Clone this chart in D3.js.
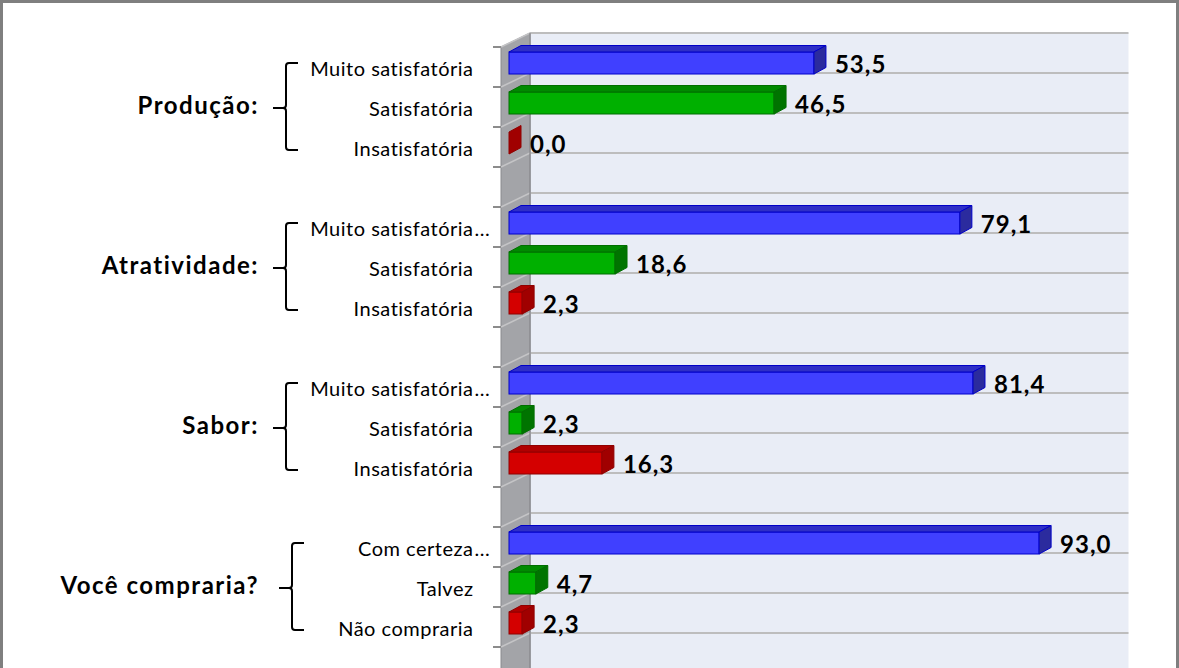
<!DOCTYPE html>
<html><head><meta charset="utf-8">
<script src="https://cdn.jsdelivr.net/npm/d3@7"></script>
<style>
html,body{margin:0;padding:0;background:#fff;}
svg{display:block;}
text{font-family:Lato,"Open Sans",sans-serif;fill:#000;}
</style></head>
<body>
<svg id="chart" width="1179" height="668"></svg>
<script>
// ---------- data ----------
const groups = ["Produção:", "Atratividade:", "Sabor:", "Você compraria?"];
const categories = [
  "Muito satisfatória", "Satisfatória", "Insatisfatória",
  "Muito satisfatória...", "Satisfatória", "Insatisfatória",
  "Muito satisfatória...", "Satisfatória", "Insatisfatória",
  "Com certeza...", "Talvez", "Não compraria"
];
const values = [53.5, 46.5, 0.0, 79.1, 18.6, 2.3, 81.4, 2.3, 16.3, 93.0, 4.7, 2.3];
const levels = ["alto", "medio", "baixo"];
const xMax = 105;

// ---------- layout ----------
const W = 1179, H = 668;
const svg = d3.select("#chart");
const frontX = 501, depthX = 29, depthY = -14;   // full floor depth
const plotTop = 47, slotH = 40, nSlots = groups.length * 4;
const barOffX = 8, barOffY = -4, barDX = 12, barDY = -6.5, barH = 22;
const labelRight = 473.5;
const colors = {
  alto:  {front: "#4040ff", top: "#2f2fc6", side: "#2b2b9e", edge: "#0000c8"},
  medio: {front: "#00b000", top: "#008a00", side: "#007400", edge: "#006e00"},
  baixo: {front: "#d40000", top: "#b00000", side: "#a00000", edge: "#900000"}
};

const slotKeys = [];
groups.forEach((g, gi) => { for (let i = 0; i < 3; i++) slotKeys.push(gi + "-" + i); slotKeys.push(gi + "-blank"); });

const y = d3.scaleBand().domain(slotKeys).range([plotTop, plotTop + nSlots * slotH]).padding(0);
const x = d3.scaleLinear().domain([0, xMax]).range([frontX, frontX + xMax * 5.7]);

// frame
svg.append("rect").attr("x", 1.5).attr("y", 1.5).attr("width", W - 3).attr("height", H + 20)
  .attr("fill", "#fff").attr("stroke", "#7f7f7f").attr("stroke-width", 3);

// back wall
const backL = x(0) + depthX, backR = x(xMax) + depthX;
svg.append("rect").attr("x", backL).attr("y", plotTop + depthY).attr("width", backR - backL)
  .attr("height", H + 40).attr("fill", "#e9edf6");

// side wall
svg.append("polygon")
  .attr("points", [[x(0), plotTop], [backL, plotTop + depthY], [backL, H + 40], [x(0), H + 40]].map(p => p.join(",")).join(" "))
  .attr("fill", "#a3a4a8").attr("stroke", "#8a8a8e").attr("stroke-width", 1);

// gridlines (slot boundaries)
const bounds = d3.range(nSlots + 1).map(i => y.range()[0] + i * y.step());
svg.append("g").selectAll("line.gb").data(bounds).join("line")
  .attr("x1", backL).attr("x2", backR)
  .attr("y1", d => d + depthY).attr("y2", d => d + depthY)
  .attr("stroke", "#bdbdbd").attr("stroke-width", 2);
svg.append("g").selectAll("line.gs").data(bounds).join("line")
  .attr("x1", x(0)).attr("x2", backL)
  .attr("y1", d => d).attr("y2", d => d + depthY)
  .attr("stroke", "#c4c4c6").attr("stroke-width", 1.5);
// ticks
svg.append("g").selectAll("line.tk").data(bounds).join("line")
  .attr("x1", x(0) - 8).attr("x2", x(0))
  .attr("y1", d => d).attr("y2", d => d)
  .attr("stroke", "#8c8c8c").attr("stroke-width", 2);
// wall edge
svg.append("line").attr("x1", backL).attr("x2", backL).attr("y1", plotTop + depthY).attr("y2", H + 40)
  .attr("stroke", "#8f8f93").attr("stroke-width", 1.5);

// bars
const barData = values.map((v, i) => ({
  v, i, g: Math.floor(i / 3), lvl: levels[i % 3],
  key: Math.floor(i / 3) + "-" + (i % 3), label: categories[i]
}));
const bars = svg.append("g");
barData.forEach(d => {
  const c = colors[d.lvl];
  const x0 = x(0) + barOffX, x1 = x(d.v) + barOffX;
  const yc = y(d.key) + y.bandwidth() / 2 + barOffY;
  const yt = yc - barH / 2, yb = yc + barH / 2;
  const g = bars.append("g");
  if (x1 > x0) {
    g.append("rect").attr("x", x0).attr("y", yt).attr("width", x1 - x0).attr("height", barH)
      .attr("fill", c.front).attr("stroke", c.edge).attr("stroke-width", 1);
    g.append("polygon").attr("points", [[x0, yt], [x0 + barDX, yt + barDY], [x1 + barDX, yt + barDY], [x1, yt]].map(p => p.join(",")).join(" "))
      .attr("fill", c.top).attr("stroke", c.edge).attr("stroke-width", 1);
  }
  g.append("polygon").attr("points", [[x1, yt], [x1 + barDX, yt + barDY], [x1 + barDX, yb + barDY], [x1, yb]].map(p => p.join(",")).join(" "))
    .attr("fill", c.side).attr("stroke", c.edge).attr("stroke-width", 1);
  // value label
  svg.append("text").attr("x", x1 + barDX + 9).attr("y", yc)
    .attr("dominant-baseline", "central")
    .attr("font-size", 24).attr("font-weight", "bold").attr("letter-spacing", 1)
    .text(d3.format(".1f")(d.v).replace(".", ","));
});

// category labels
barData.forEach(d => {
  const yc = y(d.key) + y.bandwidth() / 2 + 1;
  const hasEll = d.label.endsWith("...");
  const base = hasEll ? d.label.slice(0, -3) : d.label;
  svg.append("text").attr("x", labelRight).attr("y", yc).attr("text-anchor", "end")
    .attr("dominant-baseline", "central").attr("font-size", 20).attr("letter-spacing", 0.5).text(base);
  if (hasEll) svg.append("text").attr("x", labelRight + 1).attr("y", yc)
    .attr("dominant-baseline", "central").attr("font-size", 20).attr("letter-spacing", 0.5).text("...");
});

// group labels and braces
groups.forEach((gname, gi) => {
  const c0 = y(gi + "-0") + y.bandwidth() / 2, c2 = y(gi + "-2") + y.bandwidth() / 2;
  const cm = y(gi + "-1") + y.bandwidth() / 2;
  const shift = gi === 3 ? 6 : 0;
  const xv = 286 + shift, xa = 298 + shift, xt = 273 + shift;
  const top = c0 - 4, bot = c2 + 3, tip = cm + 1;
  const r = 3;
  const p = `M${xa},${top} L${xv + r},${top} Q${xv},${top} ${xv},${top + r} L${xv},${tip - r} Q${xv},${tip} ${xv - r},${tip} L${xt},${tip} M${xv - r},${tip} Q${xv},${tip} ${xv},${tip + r} L${xv},${bot - r} Q${xv},${bot} ${xv + r},${bot} L${xa},${bot}`;
  svg.append("path").attr("d", p).attr("fill", "none").attr("stroke", "#000").attr("stroke-width", 2);
  svg.append("text").attr("x", 259).attr("y", cm - 3).attr("text-anchor", "end")
    .attr("dominant-baseline", "central").attr("font-size", 24).attr("font-weight", "bold")
    .attr("letter-spacing", 1.5).text(gname);
});
</script>
</body></html>
